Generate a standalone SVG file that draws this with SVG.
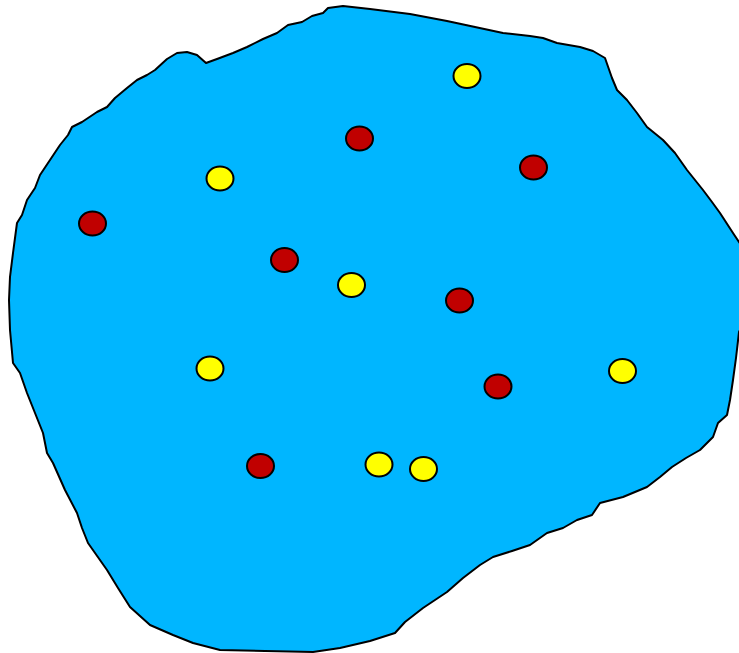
<svg xmlns="http://www.w3.org/2000/svg" width="739" height="653" viewBox="0 0 739 653">
<style>
.blob{fill:#00b6ff;stroke:#000;stroke-width:2;stroke-linejoin:round}
.r{fill:#c00000;stroke:#000;stroke-width:2}
.y{fill:#ffff00;stroke:#000;stroke-width:2}
</style>
<rect width="739" height="653" fill="#fff"/>
<g id="region">
<path class="blob" d="M343,6 L370,9 L410,14 L447,21 L475,27 L503,33 L530,36 L543,38 L557,43 L580,47 L593,51 L605,58 L612,78 L617,90 L627,100 L637,113 L647,127 L663,140 L675,153 L687,170 L703,190 L712,202 L720,213 L733,233 L741,245 L741,328 L739,332 L736,358 L733,380 L730,400 L727,415 L718,423 L713,437 L700,450 L686,458 L672,467 L660,477 L647,487 L623,497 L600,503 L592,515 L577,520 L563,528 L547,533 L530,545 L512,551 L493,557 L480,565 L463,578 L447,592 L423,608 L405,622 L395,633 L370,641 L340,648 L313,652 L265,651 L220,650 L193,643 L173,635 L150,625 L130,607 L118,588 L107,570 L88,543 L82,528 L77,513 L65,490 L53,463 L47,453 L43,433 L35,413 L27,393 L20,373 L13,363 L10,330 L9,300 L10,277 L13,253 L17,223 L22,215 L27,200 L35,188 L40,175 L50,160 L60,145 L68,135 L72,127 L82,122 L97,112 L107,107 L115,98 L127,88 L137,80 L147,75 L155,70 L167,59 L177,53 L187,52 L197,55 L206,63 L217,59 L233,53 L247,47 L263,39 L277,33 L288,25 L302,22 L312,16 L323,13 L328,8 Z"/>
</g>
<g id="dots">
<ellipse id="y1" class="y" cx="467" cy="76" rx="13.5" ry="12"/>
<ellipse id="r1" class="r" cx="359.5" cy="138.5" rx="13.5" ry="12"/>
<ellipse id="r2" class="r" cx="533.5" cy="167.5" rx="13.5" ry="12"/>
<ellipse id="y2" class="y" cx="220" cy="178.5" rx="13.5" ry="12"/>
<ellipse id="r3" class="r" cx="92.5" cy="223.5" rx="13.5" ry="12"/>
<ellipse id="r4" class="r" cx="284.5" cy="260" rx="13.5" ry="12"/>
<ellipse id="y3" class="y" cx="351.5" cy="285" rx="13.5" ry="12"/>
<ellipse id="r5" class="r" cx="459.5" cy="300.5" rx="13.5" ry="12"/>
<ellipse id="y4" class="y" cx="210" cy="368.5" rx="13.5" ry="12"/>
<ellipse id="y5" class="y" cx="622.5" cy="371" rx="13.5" ry="12"/>
<ellipse id="r6" class="r" cx="498" cy="386.5" rx="13.5" ry="12"/>
<ellipse id="r7" class="r" cx="260.5" cy="466" rx="13.5" ry="12"/>
<ellipse id="y6" class="y" cx="379" cy="464.5" rx="13.5" ry="12"/>
<ellipse id="y7" class="y" cx="423.5" cy="469" rx="13.5" ry="12"/>
</g>
</svg>
